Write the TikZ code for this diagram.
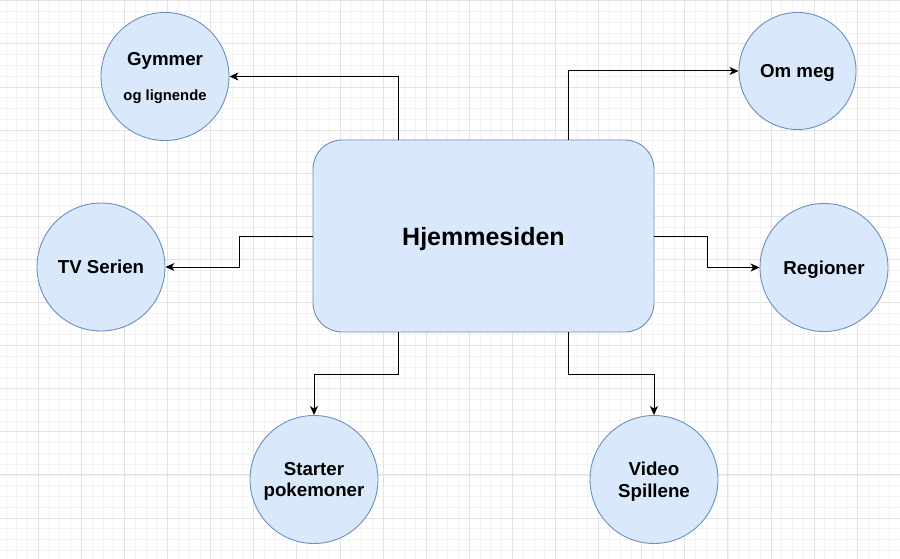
\documentclass[tikz,border=0pt]{standalone}
\usepackage{fontspec}
\setmainfont{Liberation Sans}
\usetikzlibrary{arrows.meta,calc}
\definecolor{nodefill}{HTML}{DAE8FC}
\definecolor{nodeline}{HTML}{6C8EBF}
\definecolor{gridminor}{HTML}{F2F2F2}
\definecolor{gridmajor}{HTML}{E3E3E3}

\begin{document}
\begin{tikzpicture}[x=1pt,y=-1pt]
\useasboundingbox (0,0) rectangle (900,559);
% background grid
\foreach \k in {0,...,83}
    \draw[gridminor, line width=0.8pt] ({5.97+10.775*\k},0) -- ({5.97+10.775*\k},559);
\foreach \k in {0,...,51}
    \draw[gridminor, line width=0.8pt] (0,{0.8+10.775*\k}) -- (900,{0.8+10.775*\k});
\foreach \k in {0,...,19}
    \draw[gridmajor, line width=0.9pt] ({38.3+43.1*\k},0) -- ({38.3+43.1*\k},559);
\foreach \k in {0,...,12}
    \draw[gridmajor, line width=0.9pt] (0,{0.8+43.1*\k}) -- (900,{0.8+43.1*\k});

\node[rectangle, rounded corners=29pt, draw=nodeline, fill=nodefill, line width=0.9pt,
      minimum width=341pt, minimum height=192pt, text depth=0pt,
      font=\fontsize{25}{30}\selectfont\bfseries] (hjem) at (483.5,236) {Hjemmesiden};

\begin{scope}[every node/.style={circle,draw=nodeline,fill=nodefill,line width=0.9pt,
              minimum size=128pt,inner sep=0pt,align=center,
              font=\fontsize{18.7}{21.7}\selectfont\bfseries}]
    \node[text depth=-8pt] (gymmer) at (165,76.5) {Gymmer\\[14pt]{\fontsize{14.8}{17}\selectfont og lignende}};
    \node[minimum size=117pt, text depth=0pt] (ommeg) at (797.5,71) {Om meg};
    \node (tv) at (101,267) {TV Serien};
    \node[text depth=0pt] (regioner) at (824,267.5) {Regioner};
    \node[text depth=0pt] (starter) at (314,479.5) {Starter\\pokemoner};
    \node[text depth=0pt] (video) at (654,479.5) {Video\\Spillene};
\end{scope}

\begin{scope}[>={Stealth[length=9pt,width=8pt,inset=2.5pt]},
              every path/.style={draw=black,line width=1pt}]
    \draw [->] ($(hjem.north west)!0.25!(hjem.north east)$) |- (gymmer.east);
    \draw [->] ($(hjem.north west)!0.75!(hjem.north east)$) |- (ommeg.west);

    \draw [->] (hjem.west) -- ++(-73,0) |- (tv.east);
    \draw [->] (hjem.east) -- ++(53,0) |- (regioner.west);

    \draw [->] ($(hjem.south west)!0.25!(hjem.south east)$) -- ++(0,42) -| (starter.north);
    \draw [->] ($(hjem.south west)!0.75!(hjem.south east)$) -- ++(0,42) -| (video.north);
\end{scope}
\end{tikzpicture}
\end{document}
